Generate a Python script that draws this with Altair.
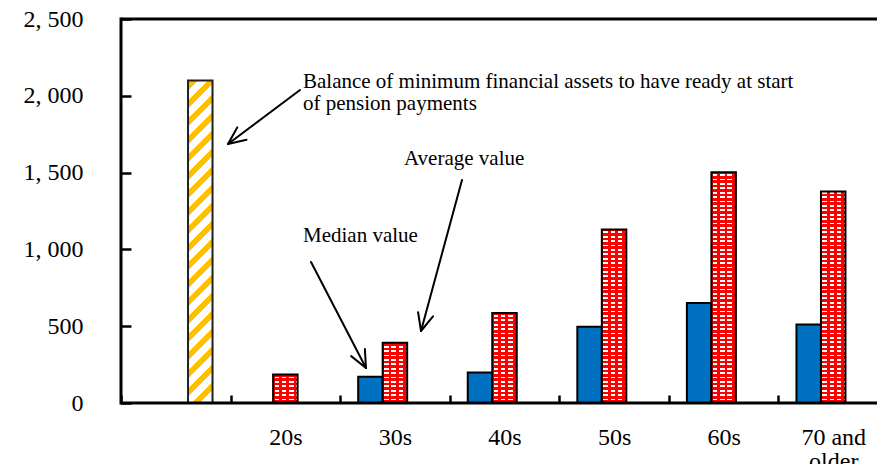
import math
import altair as alt
import pandas as pd

# ---------------- data ----------------
categories = ["", "20s", "30s", "40s", "50s", "60s", "70 and older"]
series_names = ["Median value", "Average value",
                "Balance of minimum financial assets"]
median_values = [None, None, 171, 199, 496, 651, 511]
average_values = [None, 186, 392, 586, 1130, 1502, 1377]
pension_balance = [2100, None, None, None, None, None, None]
y_ticks = [0, 500, 1000, 1500, 2000, 2500]

note_balance = ["Balance of minimum financial assets to have ready at start",
                "of pension payments"]
note_average = "Average value"
note_median = "Median value"

# ---------------- layout ----------------
PLOT_W = 756          # visible part of the plot area
RANGE_W = 767         # full width of the category axis (runs past the page edge)
PLOT_H = 384
Y_MAX = y_ticks[-1]
N_CAT = len(categories)
STEP = RANGE_W / N_CAT
BAR_W = 24.5
PAD_OUTER = (STEP / BAR_W - 3) / 2
FONT = "Liberation Serif"
BLUE = "#0070C0"
RED = "#FF0000"
YELLOW = "#FFC000"
CLEAR = "rgba(255,255,255,0)"
X_TICK = 8
Y_TICK = 10


def px(v):
    return PLOT_H * v / Y_MAX


def stripe_stops(length, period, on_len, on_color, off_color, phase=0.0):
    stops = []
    k = -1
    while True:
        s = k * period + phase
        if s >= length:
            break
        for a, b, col in ((s, s + on_len, on_color), (s + on_len, s + period, off_color)):
            a2, b2 = max(a, 0.0), min(b, length)
            if b2 > a2:
                stops.append({"offset": round(a2 / length, 5), "color": col})
                stops.append({"offset": round(b2 / length, 5), "color": col})
        k += 1
    return stops


rows = []
for c, m, a, p in zip(categories, median_values, average_values, pension_balance):
    if m is not None:
        rows.append({"cat": c, "series": series_names[0], "value": m})
    if a is not None:
        rows.append({"cat": c, "series": series_names[1], "value": a})
    if p is not None:
        rows.append({"cat": c, "series": series_names[2], "value": p})
bars = pd.DataFrame(rows)
median_df = bars[bars.series == series_names[0]]
avg_df = bars[bars.series == series_names[1]]
pen_df = bars[bars.series == series_names[2]]
avg_top = max(v for v in average_values if v is not None)
rows_df = avg_df.assign(value=avg_top)

multi = categories[-1]
# axes are moved inside the plot so that their ticks point inward
x_axis = alt.Axis(title=None, labelAngle=0, labelFont=FONT, labelFontSize=24,
                  labelColor="black", labelPadding=22, ticks=True, tickSize=X_TICK,
                  tickWidth=2.5, tickColor="black", tickBand="extent", offset=-X_TICK,
                  domain=False, grid=False,
                  labelOverlap=False, labelLineHeight=24,
                  labelExpr=f"datum.label == '{multi}' ? ['70 and', 'older'] : datum.label")
y_axis = alt.Axis(title=None, values=y_ticks, labelFont=FONT, labelFontSize=24,
                  labelColor="black", labelPadding=38, ticks=True, tickSize=Y_TICK,
                  tickWidth=2.5, tickColor="black", offset=-Y_TICK,
                  domain=False, grid=False,
                  labelExpr="replace(format(datum.value, ','), ',', ', ')")

x_scale = alt.Scale(domain=categories, paddingInner=0, paddingOuter=0, range=[0, RANGE_W])
x_enc = alt.X("cat:N", scale=x_scale, sort=categories, axis=x_axis)
xo_enc = alt.XOffset("series:N", scale=alt.Scale(domain=series_names,
                                                  paddingInner=0, paddingOuter=PAD_OUTER))
y_enc = alt.Y("value:Q", scale=alt.Scale(domain=[0, Y_MAX], nice=False), axis=y_axis)

# yellow diagonal hatch "/" (gradient in the bar's own box)
H_pen = px(pension_balance[0])
k = (BAR_W + H_pen) / (BAR_W ** 2 + H_pen ** 2)
hatch = {"gradient": "linear", "x1": 0, "y1": 0, "x2": k * BAR_W, "y2": k * H_pen,
         "stops": stripe_stops(BAR_W + H_pen, 18, 8, YELLOW, "white", phase=2)}
# red brick-like pattern: white rows + red gaps
H_rows = px(avg_top)
rows_grad = {"gradient": "linear", "x1": 0, "y1": 0, "x2": 0, "y2": 1,
             "stops": stripe_stops(H_rows, 4.4, 1.8, "white", CLEAR, phase=H_rows % 4.4)}
cols_grad = {"gradient": "linear", "x1": 0, "y1": 0, "x2": 1, "y2": 0,
             "stops": stripe_stops(BAR_W, 7.3, 2.8, RED, CLEAR, phase=-1.4)}

layers = []
layers.append(alt.Chart(median_df).mark_bar(fill=BLUE, stroke="black", strokeWidth=2)
              .encode(x=x_enc, xOffset=xo_enc, y=y_enc))
layers.append(alt.Chart(pen_df).mark_bar(fill=hatch, stroke="#202020", strokeWidth=2)
              .encode(x=x_enc, xOffset=xo_enc, y=y_enc))
layers.append(alt.Chart(avg_df).mark_bar(fill=RED, strokeWidth=0)
              .encode(x=x_enc, xOffset=xo_enc, y=y_enc))
layers.append(alt.Chart(rows_df).mark_bar(fill=rows_grad, strokeWidth=0)
              .encode(x=x_enc, xOffset=xo_enc, y=y_enc))
layers.append(alt.Chart(avg_df).mark_bar(fill=cols_grad, stroke="black", strokeWidth=2)
              .encode(x=x_enc, xOffset=xo_enc, y=y_enc))

# frame: bottom and top lines on the y scale, left line along the plot edge
frame_df = pd.DataFrame({"value": [0, Y_MAX]})
layers.append(alt.Chart(frame_df).mark_rule(color="black", strokeWidth=3)
              .encode(y=y_enc))
one = pd.DataFrame({"k": [0]})
layers.append(alt.Chart(one).mark_rule(color="black", strokeWidth=3, strokeCap="square")
              .encode(x=alt.value(0), x2=alt.value(0), y=alt.value(0), y2=alt.value(PLOT_H)))

# annotation texts (pixel positions inside the plot area)
layers.append(alt.Chart(one).mark_text(text=note_balance, font=FONT, fontSize=21, color="black",
                                       align="left", baseline="alphabetic", lineHeight=22)
              .encode(x=alt.value(182), y=alt.value(69)))
layers.append(alt.Chart(one).mark_text(text=note_average, font=FONT, fontSize=21, color="black",
                                       align="left", baseline="alphabetic")
              .encode(x=alt.value(283), y=alt.value(146)))
layers.append(alt.Chart(one).mark_text(text=note_median, font=FONT, fontSize=21, color="black",
                                       align="left", baseline="alphabetic")
              .encode(x=alt.value(182), y=alt.value(223)))

# arrows: (start, tip) in plot pixels
arrows = [((179, 71), (107, 125)), ((190, 243), (245, 349)), ((341, 161), (300, 312))]
segs = []
for (sx, sy), (tx, ty) in arrows:
    segs.append((sx, sy, tx, ty))
    ang = math.atan2(sy - ty, sx - tx)
    for d in (math.radians(24), -math.radians(24)):
        segs.append((tx, ty, tx + 19 * math.cos(ang + d), ty + 19 * math.sin(ang + d)))
for x1, y1, x2, y2 in segs:
    layers.append(alt.Chart(one).mark_rule(color="black", strokeWidth=2, strokeCap="round")
                  .encode(x=alt.value(x1), y=alt.value(y1), x2=alt.value(x2), y2=alt.value(y2)))

chart = (alt.layer(*layers)
         .properties(width=PLOT_W, height=PLOT_H,
                     padding={"left": 113, "top": 11, "right": 0, "bottom": 61},
                     autosize=alt.AutoSizeParams(type="none"))
         .configure_view(strokeWidth=0)
         .configure(background="white"))

chart.save("out.html", embed_options={"renderer": "svg", "actions": False})
